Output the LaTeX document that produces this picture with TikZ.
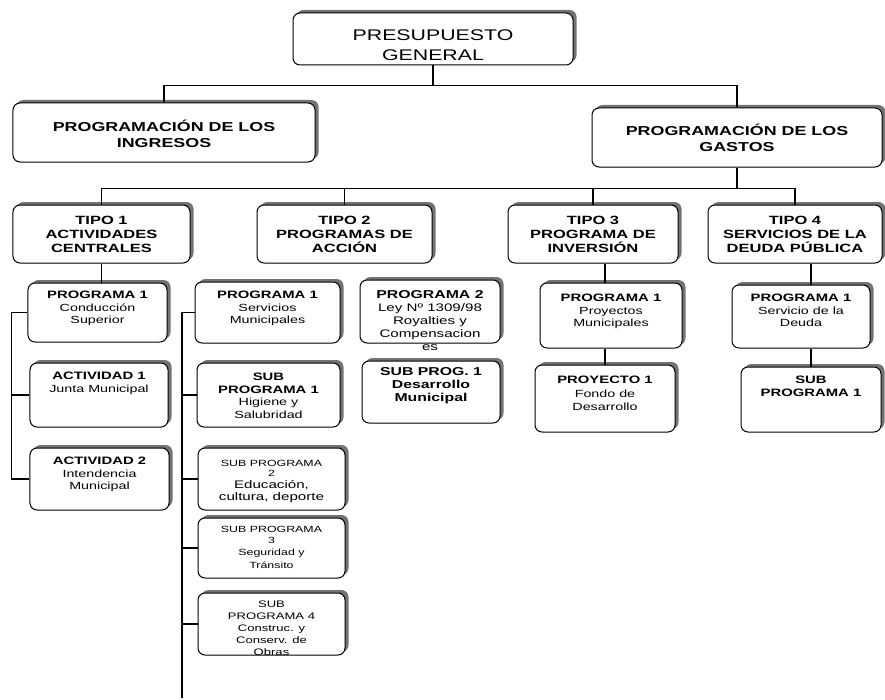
\documentclass[tikz,border=0pt]{standalone}
\usepackage{fontspec}
\setmainfont{Liberation Sans}[FakeStretch=1.38]
\usetikzlibrary{shadows}
\newcommand{\celda}[4]{\parbox[c][#2bp][t]{#1bp}{\centering\vspace*{\dimexpr#3bp-1em\relax}\rule{0pt}{1em}#4}}
\newcommand{\enc}{\fontsize{10.8}{12.5}\selectfont\bfseries}
\newcommand{\cpo}{\fontsize{10.4}{12.5}\selectfont\mdseries}
\tikzset{
	caja/.style={draw,rounded corners=7bp,fill=white,inner sep=0pt,line width=1bp,
		drop shadow={shadow xshift=3.5bp,shadow yshift=3bp,fill=black!55,opacity=1}},
	linea/.style={line width=1.5bp},
	tipo/.style={caja,font=\fontsize{12}{14}\selectfont\bfseries},
	prog/.style={caja,font=\enc},
}
\begin{document}
\begin{tikzpicture}[x=1bp,y=-1bp]
	\useasboundingbox(0,0)rectangle(885,700);
	\node[caja,font=\fontsize{15.5}{20}\selectfont](presupuesto)at(433,39){\celda{280}{52}{27.5}{PRESUPUESTO\\GENERAL}};
	\node[caja,font=\fontsize{13}{15.5}\selectfont\bfseries](ingresos)at(164,132.5){\celda{302}{59}{28.7}{PROGRAMACIÓN DE LOS\\INGRESOS}};
	\node[caja,font=\fontsize{13}{16}\selectfont\bfseries](gastos)at(737,137.5){\celda{290}{59}{27.7}{PROGRAMACIÓN DE LOS\\GASTOS}};
	\node[tipo](tipo1)at(101.5,234){\celda{177}{58}{19.3}{TIPO 1\\ACTIVIDADES\\CENTRALES}};
	\node[tipo](tipo2)at(344.5,234){\celda{175}{58}{19.3}{TIPO 2\\PROGRAMAS DE\\ACCIÓN}};
	\node[tipo](tipo3)at(593,234){\celda{170}{58}{19.3}{TIPO 3\\PROGRAMA DE\\INVERSIÓN}};
	\node[tipo](tipo4)at(795,234){\celda{174}{58}{19.3}{TIPO 4\\SERVICIOS DE LA\\DEUDA PÚBLICA}};
	\node[prog](p1a)at(97.5,312.5){\celda{139}{59}{15.8}{PROGRAMA 1\\\cpo Conducción\\Superior}};
	\node[prog](act1)at(99,395){\celda{138}{64}{16.8}{ACTIVIDAD 1\\\cpo Junta Municipal}};
	\node[prog](act2)at(99.5,479){\celda{139}{62}{16.8}{ACTIVIDAD 2\\\cpo Intendencia\\Municipal}};
	\node[prog](p1b)at(267.5,312.5){\celda{145}{61}{16.8}{PROGRAMA 1\\\cpo Servicios\\Municipales}};
	\node[prog](sub1b)at(268.5,395){\celda{143}{64}{17.8}{SUB\\PROGRAMA 1\\\cpo Higiene y\\Salubridad}};
	\node[caja,font=\fontsize{9}{10}\selectfont](sub2b)at(271.5,479){\celda{147}{62}{18.2}{SUB PROGRAMA\\2\par\fontsize{11}{12}\selectfont Educación,\\cultura, deporte}};
	\node[caja,font=\fontsize{9}{11}\selectfont](sub3b)at(271.5,548){\celda{147}{60}{14.2}{SUB PROGRAMA\\3\par\fontsize{9}{12.5}\selectfont Seguridad y\\Tránsito}};
	\node[caja,font=\fontsize{9.5}{12}\selectfont](sub4b)at(271.5,624){\celda{147}{62}{14.7}{SUB\\PROGRAMA 4\\Construc. y\\Conserv. de\\Obras}};
	\node[caja,font=\fontsize{11.5}{13}\selectfont\bfseries](p2b)at(430,311.5){\celda{140}{63}{18.8}{PROGRAMA 2\\\fontsize{11}{13}\selectfont\mdseries Ley Nº 1309/98\\Royalties y\\Compensacion\\es}};
	\node[caja,font=\fontsize{11.5}{13}\selectfont\bfseries](sp1b)at(431,392){\celda{138}{62}{14.9}{SUB PROG. 1\\Desarrollo\\Municipal}};
	\node[prog](p1c)at(611,315.5){\celda{142}{65}{18.8}{PROGRAMA 1\\\cpo Proyectos\\Municipales}};
	\node[prog](proy1)at(605,398.5){\celda{140}{67}{18.8}{PROYECTO 1\\\fontsize{10.4}{13.5}\selectfont\mdseries Fondo de\\Desarrollo}};
	\node[prog](p1d)at(801,316.5){\celda{138}{63}{16.8}{PROGRAMA 1\\\cpo Servicio de la\\Deuda}};
	\node[prog](sub1d)at(811,399.5){\celda{140}{65}{16.8}{SUB\\PROGRAMA 1}};
	\coordinate(finb)at(182,698);
	\draw[linea](presupuesto.south)--++(0,20)coordinate(r1);
	\draw[linea](ingresos.north)|-(r1)-|(gastos.north);
	\draw[linea](gastos.south)--++(0,21)coordinate(r2);
	\draw[linea](tipo1.north)|-(r2)-|(tipo4.north);
	\draw[linea](tipo2.north)--(tipo2.north|-r2);
	\draw[linea](tipo3.north)--(tipo3.north|-r2);
	\draw[linea](tipo1.south)--(tipo1.south|-p1a.north);
	\draw[linea](p1a.west)--++(-16,0)coordinate(c1)|-(act2.west);
	\draw[linea](act1.west)--(act1.west-|c1);
	\draw[linea](p1b.west)--(p1b.west-|finb)--(finb);
	\foreach \n in {sub1b,sub2b,sub3b,sub4b}
		\draw[linea](\n.west)--(\n.west-|finb);
	\draw[linea](tipo3.south-|proy1.north)--(p1c.north-|proy1.north);
	\draw[linea](p1c.south-|proy1.north)--(proy1.north);
	\draw[linea](tipo4.south-|sub1d.north)--(p1d.north-|sub1d.north);
	\draw[linea](p1d.south-|sub1d.north)--(sub1d.north);
\end{tikzpicture}
\end{document}
